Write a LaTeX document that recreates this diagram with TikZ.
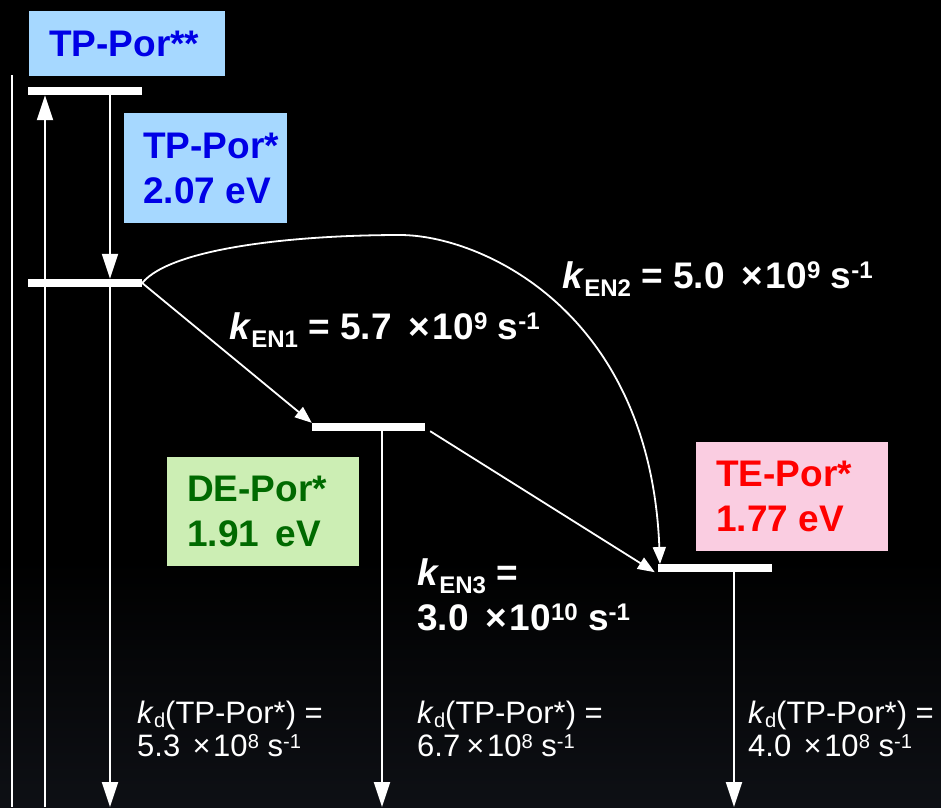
\documentclass[tikz,border=0pt]{standalone}
\usepackage{fontspec}
\setmainfont{Liberation Sans}
\usetikzlibrary{arrows.meta}

\definecolor{tpfill}{RGB}{166,216,255}
\definecolor{tptext}{RGB}{0,0,230}
\definecolor{defill}{RGB}{204,238,180}
\definecolor{detext}{RGB}{0,106,0}
\definecolor{tefill}{RGB}{250,205,225}
\definecolor{tetext}{RGB}{255,0,0}
\definecolor{bgbottom}{RGB}{14,16,21}

\newcommand\boxfont{\fontsize{37}{45}\selectfont\bfseries}
\newcommand\ratefont{\fontsize{37}{45}\selectfont\bfseries}
\newcommand\decayfont{\fontsize{31}{33}\selectfont}

% raised and lowered scripts whose tops sit at cap height
\makeatletter
\newcommand\upsc[1]{\raisebox{0.25em}{\fontsize{\fpeval{0.65*\f@size}}{0}\selectfont #1}}
\newcommand\dnsc[2][0.22em]{\raisebox{-#1}{\fontsize{\fpeval{0.65*\f@size}}{0}\selectfont #2}}
\makeatother

\begin{document}
\begin{tikzpicture}[x=1pt,y=-1pt,
  level/.style={fill=white, draw=none, inner sep=0pt, minimum height=8pt},
  statebox/.style={anchor=north west, inner sep=0pt, draw=none},
  statetext/.style={anchor=west, inner sep=0pt, align=left, font=\boxfont},
  vline/.style={draw=white, line width=2pt},
  bigarrow/.style={vline, -{Triangle[length=25pt,width=16pt]}},
  transfer/.style={draw=white, line width=1.8pt, -{Triangle[length=17pt,width=13pt]}},
  ratelabel/.style={anchor=base west, inner sep=0pt, text=white, font=\ratefont},
  decaylabel/.style={anchor=base west, inner sep=0pt, text=white, font=\decayfont},
]
\useasboundingbox (0,0) rectangle (941,807);

% background, darkening slightly towards the bottom
\fill[black] (0,0) rectangle (941,807);
\shade[top color=black, bottom color=bgbottom] (0,560) rectangle (941,807);

% energy levels
\node[level, minimum width=114pt] (L0) at (85,91) {};
\node[level, minimum width=114pt] (L1) at (85,283) {};
\node[level, minimum width=113pt] (L2) at (368.5,427) {};
\node[level, minimum width=114pt] (L3) at (715,568) {};

% state boxes
\node[statebox, fill=tpfill, minimum width=196pt, minimum height=65pt] (tpss) at (29,11) {};
\node[statebox, fill=tpfill, minimum width=163pt, minimum height=110pt] (tps) at (124,113) {};
\node[statebox, fill=defill, minimum width=192pt, minimum height=109pt] (des) at (167,457) {};
\node[statebox, fill=tefill, minimum width=192pt, minimum height=109pt] (tes) at (696,442) {};

% state labels
\node[statetext, text=tptext] (tpssText) at ([xshift=20pt]tpss.west) {TP-Por**};
\node[statetext, text=tptext] (tpsText) at ([xshift=19pt]tps.west) {TP-Por*\\2.07 eV};
\node[statetext, text=detext] (desText) at ([xshift=20pt]des.west) {DE-Por*\\1.91\hspace{0.45em}eV};
\node[statetext, text=tetext] (tesText) at ([xshift=20pt]tes.west) {TE-Por*\\1.77 eV};

% free ends at the lower edge
\coordinate (topL) at (12,75);
\coordinate (botL) at (12,807);
\coordinate (botA) at (45,807);
\coordinate (botB) at (110,807);
\coordinate (botD) at (382,807);
\coordinate (botT) at (734,807);
\coordinate (tipEN2) at (660,564);

% ground-state axis and excitation
\draw[vline] (topL) -- (botL);
\draw[bigarrow] (botA) -- (L0.south -| botA);

% internal conversion and decays
\draw[bigarrow] (L0.south -| botB) -- (L1.north -| botB);
\draw[bigarrow] (L1.south -| botB) -- (botB);
\draw[bigarrow] (L2.south -| botD) -- (botD);
\draw[bigarrow] (L3.south -| botT) -- (botT);

% energy transfer steps
\draw[transfer] (L1.east) -- (L2.north west);
\draw[transfer] ([xshift=5pt]L2.south east) -- ([xshift=-3pt]L3.south west);
\draw[transfer] (L1.east) .. controls (172,247) and (300,235) .. (400,235)
  .. controls (480,235) and (650,310) .. (tipEN2);

% rate constants
\node[ratelabel] (kEN1) at (229,339)
  {\textit{k}\dnsc{EN1} = 5.7\hspace{0.45em}×\hspace{0.08em}10\upsc{9} s\upsc{-1}};
\node[ratelabel] (kEN2) at (562,288)
  {\textit{k}\dnsc{EN2} = 5.0\hspace{0.45em}×\hspace{0.08em}10\upsc{9} s\upsc{-1}};
\node[ratelabel] (kEN3) at (417,585)
  {\begin{tabular}[t]{@{}l@{}}\textit{k}\dnsc{EN3} =\\
   3.0\hspace{0.45em}×\hspace{0.08em}10\upsc{10} s\upsc{-1}\end{tabular}};

\node[decaylabel] (kdTP) at (137,723)
  {\begin{tabular}[t]{@{}l@{}}\textit{k}\dnsc[0.15em]{d}(TP-Por*) =\\
   5.3\hspace{0.4em}×\hspace{0.08em}10\upsc{8} s\upsc{-1}\end{tabular}};
\node[decaylabel] (kdDE) at (417,723)
  {\begin{tabular}[t]{@{}l@{}}\textit{k}\dnsc[0.15em]{d}(TP-Por*) =\\
   6.7\hspace{0.2em}×\hspace{0.08em}10\upsc{8} s\upsc{-1}\end{tabular}};
\node[decaylabel] (kdTE) at (748,723)
  {\begin{tabular}[t]{@{}l@{}}\textit{k}\dnsc[0.15em]{d}(TP-Por*) =\\
   4.0\hspace{0.4em}×\hspace{0.08em}10\upsc{8} s\upsc{-1}\end{tabular}};
\end{tikzpicture}
\end{document}
